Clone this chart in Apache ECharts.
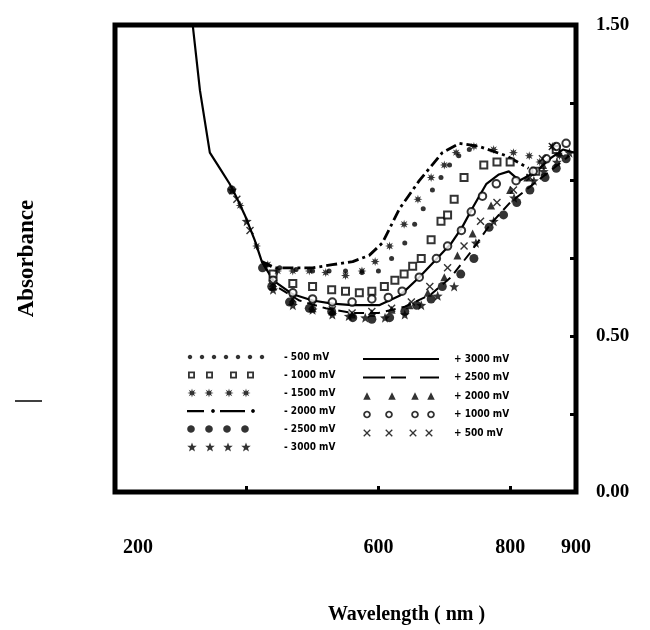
<!DOCTYPE html>
<html><head><meta charset="utf-8">
<script src="https://cdn.jsdelivr.net/npm/echarts@6/dist/echarts.min.js"></script>
<style>html,body{margin:0;padding:0;background:#fff}#c{width:650px;height:630px}</style>
</head><body><div id="c"></div>
<script>
// ---------- data (wavelength nm, absorbance) ----------
const xLabelValues = [200, 600, 800, 900];
const xTickValues = [400, 600, 800];
const yLabelValues = [0, 0.5, 1.5];
const yTickValues = [0, 0.25, 0.5, 0.75, 1.0, 1.25, 1.5];

const minus500 = [[430,0.73],[450,0.72],[475,0.715],[500,0.71],[525,0.71],[550,0.71],[575,0.705],[600,0.71],[620,0.75],[640,0.80],[655,0.86],[668,0.91],[682,0.97],[695,1.01],[708,1.05],[722,1.08],[738,1.10]];
const minus1000 = [[440,0.70],[470,0.67],[500,0.66],[529,0.65],[550,0.645],[571,0.64],[590,0.645],[609,0.66],[625,0.68],[639,0.70],[652,0.725],[665,0.75],[680,0.81],[695,0.87],[705,0.89],[715,0.94],[730,1.01],[760,1.05],[780,1.06],[800,1.06],[839,1.03],[870,1.10]];
const minus1500 = [[390,0.92],[415,0.79],[432,0.73],[447,0.71],[470,0.71],[495,0.71],[520,0.705],[550,0.695],[575,0.71],[595,0.74],[617,0.79],[639,0.86],[660,0.94],[680,1.01],[700,1.05],[718,1.09],[745,1.11],[775,1.10],[805,1.09],[829,1.08],[845,1.06],[864,1.11],[875,1.08]];
const minus2000 = [[423,0.74],[442,0.72],[470,0.72],[500,0.72],[530,0.73],[561,0.74],[586,0.76],[606,0.80],[632,0.91],[662,1.00],[697,1.09],[723,1.12],[753,1.11],[794,1.08],[828,1.04]];
const minus2500 = [[377,0.97],[424,0.72],[438,0.66],[465,0.61],[495,0.59],[529,0.58],[561,0.56],[590,0.555],[617,0.56],[640,0.58],[658,0.60],[680,0.62],[697,0.66],[725,0.70],[745,0.75],[768,0.85],[790,0.89],[810,0.93],[830,0.97],[853,1.01],[870,1.04],[885,1.07]];
const minus3000 = [[378,0.97],[400,0.87],[440,0.65],[470,0.60],[500,0.585],[530,0.57],[555,0.565],[580,0.56],[610,0.56],[640,0.57],[665,0.60],[690,0.63],[715,0.66],[748,0.80],[775,0.87],[806,0.945],[836,1.00],[851,1.03],[871,1.06],[890,1.09]];
const plus3000 = [[318,1.50],[329,1.29],[344,1.09],[359,1.04],[374,0.99],[386,0.94],[397,0.89],[412,0.81],[423,0.74],[440,0.68],[470,0.635],[500,0.615],[530,0.605],[560,0.60],[601,0.60],[632,0.63],[662,0.69],[689,0.75],[711,0.80],[727,0.85],[745,0.92],[764,0.99],[783,1.02],[798,1.03],[814,1.00],[840,1.03],[860,1.07],[880,1.10],[897,1.09]];
const plus2500 = [[423,0.74],[445,0.66],[480,0.615],[520,0.59],[560,0.575],[600,0.575],[640,0.595],[680,0.635],[710,0.69],[740,0.77],[770,0.86],[800,0.93],[830,0.98],[860,1.03],[890,1.08]];
const plus2000 = [[440,0.66],[470,0.615],[500,0.59],[530,0.58],[560,0.57],[590,0.575],[620,0.585],[647,0.60],[675,0.64],[700,0.69],[720,0.76],[743,0.83],[771,0.92],[800,0.97],[826,1.01],[850,1.05],[875,1.09]];
const plus1000 = [[440,0.68],[470,0.64],[500,0.62],[530,0.61],[560,0.61],[590,0.62],[615,0.625],[636,0.645],[662,0.69],[688,0.75],[705,0.79],[726,0.84],[741,0.90],[758,0.95],[779,0.99],[809,1.00],[835,1.03],[855,1.07],[870,1.11],[885,1.12]];
const plus500 = [[385,0.94],[405,0.84],[440,0.67],[470,0.62],[500,0.60],[530,0.585],[560,0.575],[590,0.58],[620,0.59],[650,0.61],[678,0.66],[705,0.72],[730,0.79],[755,0.87],[780,0.93],[805,0.97],[830,1.01],[849,1.07],[864,1.11]];

// ---------- shape helpers ----------
function poly(pts){return 'M'+pts.map(p=>p[0].toFixed(2)+' '+p[1].toFixed(2)).join('L')+'Z';}
function starPts(cx,cy,n,ro,ri){const p=[];for(let k=0;k<2*n;k++){const a=k*Math.PI/n;const r=k%2?ri:ro;p.push([cx+r*Math.sin(a),cy-r*Math.cos(a)]);}return p;}
function circPts(cx,cy,r,rev){const p=[];for(let k=0;k<20;k++){const a=(rev?-1:1)*k*Math.PI/10;p.push([cx+r*Math.cos(a),cy+r*Math.sin(a)]);}return p;}
function rectPts(x,y,w,h,rev){return rev?[[x,y],[x,y+h],[x+w,y+h],[x+w,y]]:[[x,y],[x+w,y],[x+w,y+h],[x,y+h]];}
function xPts(cx,cy,s){const b=[[0,2.5],[2.5,0],[10,7.5],[17.5,0],[20,2.5],[12.5,10],[20,17.5],[17.5,20],[10,12.5],[2.5,20],[0,17.5],[7.5,10]];return b.map(q=>[cx+(q[0]-10)*s/20,cy+(q[1]-10)*s/20]);}
function triPts(cx,cy,s){return [[cx,cy-s/2],[cx+s/2,cy+s/2],[cx-s/2,cy+s/2]];}
function anchors(w,h){return poly(rectPts(0,0,0.05,0.05))+poly(rectPts(w-0.05,h-0.05,0.05,0.05));}

const asteriskSym = 'path://'+poly(starPts(10,10,8,10,4.5));
const starSym = 'path://'+poly(starPts(10,10,5,10,4.2));
const xSym = 'path://'+poly(xPts(10,10,20));

const LW = 92, RW = 86, H = 10;
function icon(w, parts){return 'path://'+anchors(w,H)+parts.join('');}
const iconDots = icon(LW,[3,15,27,39,51,63,75].map(x=>poly(circPts(x,5,2.2))));
const iconSquares = icon(LW,[1,19,43,60].map(x=>poly(rectPts(x,1.5,7,7))+poly(rectPts(x+1.8,3.3,3.4,3.4,true))));
const iconAsterisk = icon(LW,[5,22,42,59].map(x=>poly(starPts(x,5,8,4.6,2))));
const iconDashDot = icon(LW,[poly(rectPts(0,4,17,2.2)),poly(circPts(26,5,1.9)),poly(rectPts(33,4,25,2.2)),poly(circPts(66,5,1.9))]);
const iconFilled = icon(LW,[4,22,40,58].map(x=>poly(circPts(x,5,3.8))));
const iconStars = icon(LW,[5,23,41,59].map(x=>poly(starPts(x,5.4,5,5,2.1))));
const iconSolid = icon(RW,[poly(rectPts(0,4.1,76,2))]);
const iconDashed = icon(RW,[poly(rectPts(0,4.1,22,2)),poly(rectPts(28,4.1,15,2)),poly(rectPts(57,4.1,19,2))]);
const iconTri = icon(RW,[4,29,52,68].map(x=>poly(triPts(x,5,7.5))));
const iconOCirc = icon(RW,[4,26,52,68].map(x=>poly(circPts(x,5,3.8))+poly(circPts(x,5,2,true))));
const iconX = icon(RW,[4,26,50,66].map(x=>poly(xPts(x,5,7.5))));

const serif = "'Liberation Serif','DejaVu Serif',serif";
const legendText = {fontFamily:"'DejaVu Sans Condensed','DejaVu Sans',sans-serif",fontWeight:'bold',fontSize:10,lineHeight:10,color:'#000'};

function scatter(name,data,symbol,size,extra){return Object.assign({type:'scatter',name,data,symbol,symbolSize:size,itemStyle:{color:'#000'},z:3},extra||{});}
function line(name,data,type,width){return {type:'line',name,data,showSymbol:false,symbol:'none',lineStyle:{color:'#000',width,type},itemStyle:{color:'#000'},z:2,clip:true};}

const chart = echarts.init(document.getElementById('c'),null,{renderer:'canvas'});
chart.setOption({
  animation:false,
  backgroundColor:'#fff',
  grid:{left:115,right:74,top:25,bottom:137,show:true,borderColor:'#000',borderWidth:5,backgroundColor:'transparent'},
  xAxis:{type:'value',min:200,max:900,
    axisLine:{show:false},splitLine:{show:false},
    axisTick:{show:true,inside:true,length:6,lineStyle:{color:'#000',width:3},customValues:xTickValues},
    axisLabel:{customValues:xLabelValues,margin:46,color:'#000',fontFamily:serif,fontWeight:'bold',fontSize:20,
      formatter:v=>v===200?'{s|200}':String(v),
      rich:{s:{padding:[0,0,0,46],fontFamily:serif,fontWeight:'bold',fontSize:20,color:'#000'}}},
    name:'Wavelength ( nm )',nameLocation:'middle',nameGap:113,
    nameTextStyle:{fontFamily:serif,fontWeight:'bold',fontSize:20,color:'#000',padding:[0,0,0,122]}},
  yAxis:[
    {type:'value',min:0,max:1.5,position:'right',
      axisLine:{show:false},splitLine:{show:false},
      axisTick:{show:true,inside:true,length:6,lineStyle:{color:'#000',width:3},customValues:yTickValues},
      axisLabel:{customValues:yLabelValues,margin:20,color:'#000',fontFamily:serif,fontWeight:'bold',fontSize:19,formatter:v=>v.toFixed(2)}},
    {type:'value',min:0,max:1.5,position:'left',
      axisLine:{show:false},splitLine:{show:false},axisTick:{show:false},axisLabel:{show:false},
      name:'Absorbance',nameLocation:'middle',nameGap:76,nameRotate:90,
      nameTextStyle:{fontFamily:serif,fontWeight:'bold',fontSize:23,color:'#000'}}
  ],
  legend:[
    {left:182,top:347,orient:'vertical',itemWidth:LW,itemHeight:H,itemGap:8,selectedMode:false,
      itemStyle:{color:'#000',borderWidth:0},textStyle:legendText,
      data:[{name:'- 500 mV',icon:iconDots},{name:'- 1000 mV',icon:iconSquares},{name:'- 1500 mV',icon:iconAsterisk},
            {name:'- 2000 mV',icon:iconDashDot},{name:'- 2500 mV',icon:iconFilled},{name:'- 3000 mV',icon:iconStars}]},
    {left:358,top:349,orient:'vertical',itemWidth:RW,itemHeight:H,itemGap:8.5,selectedMode:false,
      itemStyle:{color:'#000',borderWidth:0},textStyle:legendText,
      data:[{name:'+ 3000 mV',icon:iconSolid},{name:'+ 2500 mV',icon:iconDashed},{name:'+ 2000 mV',icon:iconTri},
            {name:'+ 1000 mV',icon:iconOCirc},{name:'+ 500 mV',icon:iconX}]}
  ],
  graphic:[{type:'line',shape:{x1:15,y1:401,x2:42,y2:401},style:{stroke:'#000',lineWidth:1.5}}],
  series:[
    line('+ 3000 mV',plus3000,'solid',2.2),
    line('+ 2500 mV',plus2500,[10,6],2),
    line('- 2000 mV',minus2000,[11,4,3,4],2.8),
    scatter('- 500 mV',minus500,'circle',5),
    scatter('- 1000 mV',minus1000,'emptyRect',7,{itemStyle:{color:'#000',borderWidth:2}}),
    scatter('- 1500 mV',minus1500,asteriskSym,9),
    scatter('- 2500 mV',minus2500,'circle',9),
    scatter('- 3000 mV',minus3000,starSym,10),
    scatter('+ 2000 mV',plus2000,'triangle',8),
    scatter('+ 1000 mV',plus1000,'emptyCircle',7.5,{itemStyle:{color:'#000',borderWidth:2}}),
    scatter('+ 500 mV',plus500,xSym,8)
  ]
});
</script></body></html>
